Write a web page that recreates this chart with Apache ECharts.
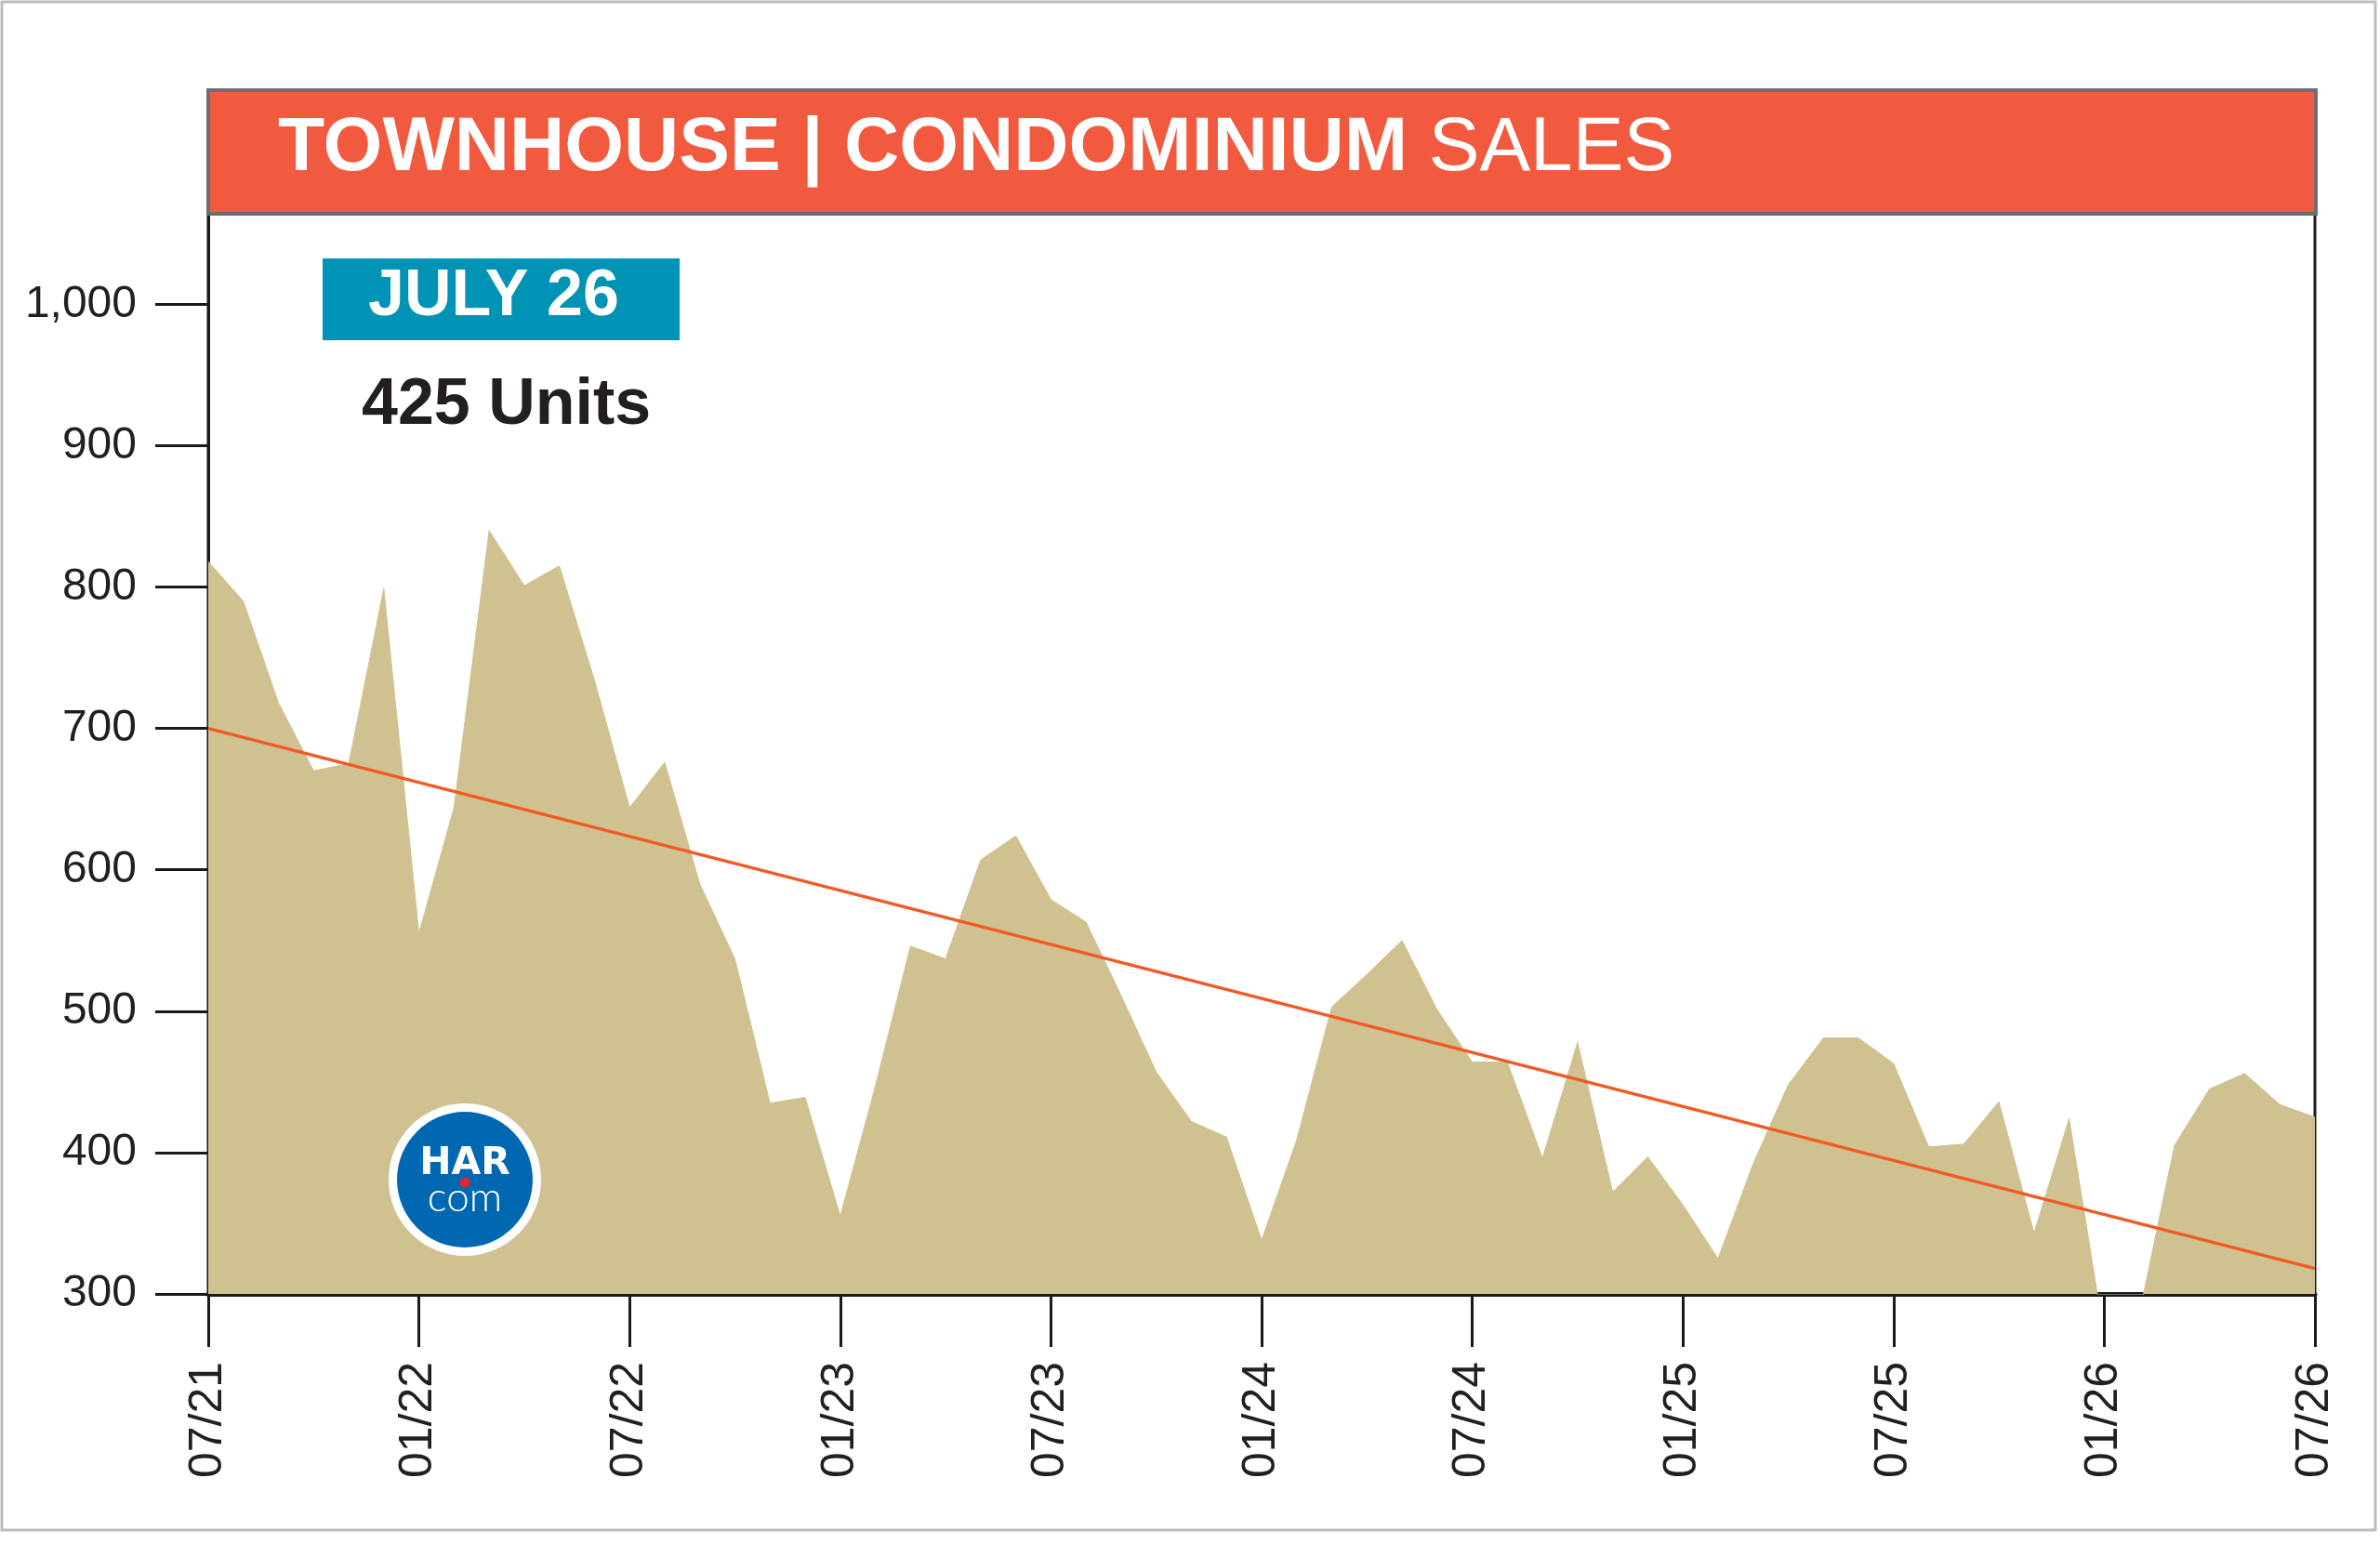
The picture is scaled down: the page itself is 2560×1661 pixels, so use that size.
<!DOCTYPE html>
<html>
<head>
<meta charset="utf-8">
<title>Townhouse | Condominium Sales</title>
<script src="https://cdn.jsdelivr.net/npm/echarts@6/dist/echarts.min.js"></script>
<style>
  html, body { margin: 0; padding: 0; background: #fff; }
  #chart { width: 2560px; height: 1661px; }
</style>
</head>
<body>
<div id="chart"></div>
<script>
// monthly closed sales, 07/21 .. 07/26
const months = [
  '07/21','08/21','09/21','10/21','11/21','12/21',
  '01/22','02/22','03/22','04/22','05/22','06/22',
  '07/22','08/22','09/22','10/22','11/22','12/22',
  '01/23','02/23','03/23','04/23','05/23','06/23',
  '07/23','08/23','09/23','10/23','11/23','12/23',
  '01/24','02/24','03/24','04/24','05/24','06/24',
  '07/24','08/24','09/24','10/24','11/24','12/24',
  '01/25','02/25','03/25','04/25','05/25','06/25',
  '07/25','08/25','09/25','10/25','11/25','12/25',
  '01/26','02/26','03/26','04/26','05/26','06/26',
  '07/26'
];
const sales = [
  818, 790, 718, 670, 675, 799,
  555, 644, 840, 801, 815, 734,
  644, 676, 590, 537, 435, 439,
  355, 447, 546, 537, 607, 624,
  579, 563, 511, 457, 422, 411,
  338, 409, 503, 526, 550, 501,
  464, 464, 396, 478, 372, 397,
  363, 325, 392, 448, 481, 481,
  463, 404, 406, 436, 343, 424,
  270, 286, 405, 445, 456, 434,
  425
];
// trend line, value at first and last month
const trend = [700, 318];
const yTicks = [300, 400, 500, 600, 700, 800, 900, 1000];

const ink = '#231f20';
const font = 'Liberation Sans, Arial, Helvetica, sans-serif';

const chart = echarts.init(document.getElementById('chart'));

const option = {
  backgroundColor: '#ffffff',
  animation: false,
  grid: {
    left: 224, right: 70, top: 230, bottom: 269,
    show: true, borderColor: '#1a1a1a', borderWidth: 3,
    backgroundColor: 'transparent'
  },
  xAxis: {
    type: 'category',
    data: months,
    boundaryGap: false,
    axisLine: { onZero: false, lineStyle: { color: '#1a1a1a', width: 5 } },
    axisTick: { show: true, interval: 5, length: 57, lineStyle: { color: '#1a1a1a', width: 3 } },
    axisLabel: { interval: 5, rotate: 90, margin: 73, fontSize: 50, color: ink, fontFamily: font },
    splitLine: { show: false }
  },
  yAxis: {
    type: 'value',
    min: 300,
    max: 1064,
    axisLine: { show: true, lineStyle: { color: '#1a1a1a', width: 3 } },
    axisTick: { show: true, length: 57, lineStyle: { color: '#1a1a1a', width: 3 }, customValues: yTicks },
    axisLabel: {
      customValues: yTicks, margin: 77, fontSize: 48, color: ink, fontFamily: font,
      formatter: v => v.toLocaleString('en-US')
    },
    splitLine: { show: false }
  },
  series: [
    {
      name: 'Sales',
      type: 'line',
      data: sales,
      showSymbol: false,
      clip: true,
      lineStyle: { color: '#cfc190', width: 1 },
      areaStyle: { color: '#cfc190', opacity: 1 },
      z: 2
    },
    {
      name: 'Trend',
      type: 'line',
      data: [[months[0], trend[0]], [months[months.length - 1], trend[1]]],
      showSymbol: false,
      lineStyle: { color: '#f15a24', width: 3.5 },
      z: 3
    }
  ],
  graphic: [
    // outer frame
    {
      type: 'rect', z: 1, silent: true,
      shape: { x: 2, y: 2, width: 2553, height: 1644 },
      style: { fill: 'none', stroke: '#bdbdbd', lineWidth: 3 }
    },
    // title banner
    {
      type: 'rect', z: 10,
      shape: { x: 224, y: 97, width: 2267, height: 133 },
      style: { fill: '#f15a3f', stroke: '#6d6e71', lineWidth: 4 }
    },
    {
      type: 'text', z: 11, x: 299, y: 160,
      style: {
        text: '{b|TOWNHOUSE | CONDOMINIUM\u00a0}{r|SALES}',
        verticalAlign: 'middle',
        rich: {
          b: { fontSize: 82, fontWeight: 'bold', fill: '#ffffff', fontFamily: font },
          r: { fontSize: 82, fontWeight: 'normal', fill: '#ffffff', fontFamily: font }
        }
      }
    },
    // month badge
    {
      type: 'rect', z: 10,
      shape: { x: 347, y: 278, width: 384, height: 88 },
      style: { fill: '#0093b5' }
    },
    {
      type: 'text', z: 11, x: 396, y: 320,
      style: {
        text: 'JULY 26', fill: '#ffffff', fontSize: 70, fontWeight: 'bold',
        fontFamily: font, verticalAlign: 'middle'
      }
    },
    {
      type: 'text', z: 11, x: 389, y: 437,
      style: {
        text: '425 Units', fill: ink, fontSize: 70, fontWeight: 'bold',
        fontFamily: font, verticalAlign: 'middle'
      }
    },
    // HAR.com logo
    {
      type: 'circle', z: 10,
      shape: { cx: 500, cy: 1269, r: 82 },
      style: { fill: '#ffffff' }
    },
    {
      type: 'circle', z: 11,
      shape: { cx: 500, cy: 1269, r: 73 },
      style: { fill: '#0067b1' }
    },
    {
      type: 'text', z: 12, x: 500, y: 1252,
      style: {
        text: 'HAR', fill: '#ffffff', fontSize: 41, fontWeight: 'bold',
        fontFamily: 'DejaVu Sans, sans-serif', align: 'center', verticalAlign: 'middle'
      }
    },
    {
      type: 'circle', z: 13,
      shape: { cx: 500, cy: 1272, r: 5.5 },
      style: { fill: '#e4252b' }
    },
    {
      type: 'text', z: 12, x: 500, y: 1289,
      style: {
        text: 'com', fill: '#ffffff', fontSize: 44, fontWeight: 300,
        fontFamily: 'Lato, Roboto, sans-serif', align: 'center', verticalAlign: 'middle'
      }
    }
  ]
};

chart.setOption(option);
</script>
</body>
</html>
